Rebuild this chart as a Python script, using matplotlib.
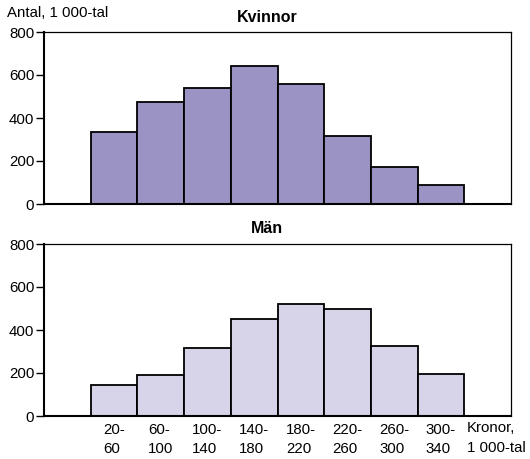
import numpy as np
import matplotlib
matplotlib.use('Agg')
import matplotlib.pyplot as plt

plt.rcParams['font.family'] = ['Liberation Sans', 'DejaVu Sans']

# income classes, 1 000 kronor
classes = ['20-\n60', '60-\n100', '100-\n140', '140-\n180', '180-\n220',
           '220-\n260', '260-\n300', '300-\n340']
kvinnor = [335, 476, 540, 643, 558, 315, 174, 90]
man = [144, 191, 314, 451, 519, 496, 326, 196]

col_kvinnor = '#9b93c4'
col_man = '#d7d3e8'
fs = 10.8

fig = plt.figure(figsize=(5.30, 4.59), dpi=100)
ax1 = fig.add_axes([44/530, 1-204/459, 467/530, 172/459])
ax2 = fig.add_axes([44/530, 1-416/459, 467/530, 172/459])

x = np.arange(1, len(classes)+1) + 0.5

for ax, vals, col in [(ax1, kvinnor, col_kvinnor), (ax2, man, col_man)]:
    ax.bar(x, vals, width=1.0, color=col, edgecolor='black', linewidth=1.3)
    ax.set_xlim(0, 10)
    ax.set_ylim(0, 800)
    ax.set_yticks([0, 200, 400, 600, 800])
    ax.tick_params(axis='y', labelsize=fs, length=6, width=1, pad=1)
    ax.tick_params(axis='x', length=0)
    for s in ['left', 'bottom']:
        ax.spines[s].set_linewidth(1.5)
    for s in ['top', 'right']:
        ax.spines[s].set_linewidth(0.9)

# panel titles
fig.text(267/530, 1-22/459, 'Kvinnor', ha='center', va='baseline',
         fontsize=11.5, fontweight='bold')
fig.text(267/530, 1-233/459, 'Män', ha='center', va='baseline',
         fontsize=11.5, fontweight='bold')

ax1.set_xticks([])
ax2.set_xticks(x)
ax2.set_xticklabels(classes, fontsize=fs, linespacing=1.5, multialignment='left')
ax2.tick_params(axis='x', pad=5)

ax2.text(9.05, -0.03, 'Kronor,\n1 000-tal', transform=ax2.get_xaxis_transform(),
         ha='left', va='top', fontsize=fs, linespacing=1.5)
fig.text(7/530, 1-17/459, 'Antal, 1 000-tal', ha='left', va='baseline', fontsize=fs)

fig.savefig('out.png', dpi=100)
plt.close()
